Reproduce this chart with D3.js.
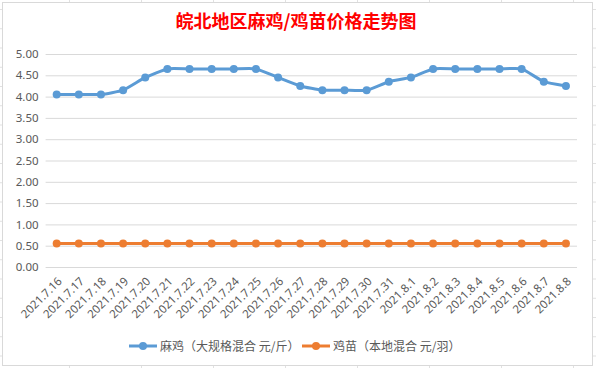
<!DOCTYPE html>
<html>
<head>
<meta charset="utf-8">
<script src="https://cdn.jsdelivr.net/npm/d3@7"></script>
<style>
body{margin:0;background:#fff;}
text{font-family:"Noto Sans CJK SC","Noto Sans",sans-serif;}
</style>
</head>
<body>
<div id="chart"></div>
<script>
/* 皖北地区麻鸡/鸡苗价格走势图 */

var dates = ["2021.7.16","2021.7.17","2021.7.18","2021.7.19","2021.7.20","2021.7.21","2021.7.22","2021.7.23",
  "2021.7.24","2021.7.25","2021.7.26","2021.7.27","2021.7.28","2021.7.29","2021.7.30","2021.7.31",
  "2021.8.1","2021.8.2","2021.8.3","2021.8.4","2021.8.5","2021.8.6","2021.8.7","2021.8.8"];
var maji = [4.05,4.05,4.05,4.15,4.45,4.65,4.65,4.65,4.65,4.65,4.45,4.25,4.15,4.15,4.15,4.35,4.45,4.65,4.65,4.65,4.65,4.65,4.35,4.25];
var jimiao = [0.55,0.55,0.55,0.55,0.55,0.55,0.55,0.55,0.55,0.55,0.55,0.55,0.55,0.55,0.55,0.55,0.55,0.55,0.55,0.55,0.55,0.55,0.55,0.55];
var yTicks = [0,0.5,1,1.5,2,2.5,3,3.5,4,4.5,5];
var seriesNames = ["麻鸡（大规格混合 元/斤）","鸡苗（本地混合 元/羽）"];
var colors = ["#5b9bd5","#ed7d31"];

var W = 596, H = 368;
var svg = d3.select("#chart").append("svg").attr("width",W).attr("height",H);

// spreadsheet cells behind the chart
var bg = svg.append("g").attr("stroke","#e1e1e1").attr("stroke-width",1);
d3.range(-3,9).forEach(function(i){
  var x = 69.5 + i*72;
  bg.append("line").attr("x1",x).attr("x2",x).attr("y1",0).attr("y2",H);
});
d3.range(0,20).forEach(function(i){
  var y = 9.5 + i*19.25;
  bg.append("line").attr("x1",0).attr("x2",W).attr("y1",y).attr("y2",y);
});

svg.append("rect").attr("x",2.5).attr("y",2.5).attr("width",590).attr("height",363)
  .attr("fill","#fff").attr("stroke","#d9d9d9");

svg.append("text").text("皖北地区麻鸡/鸡苗价格走势图")
  .attr("x",296).attr("y",28).attr("text-anchor","middle")
  .attr("font-size","18px").attr("font-weight","bold").attr("fill","#ff0000");

var margin = {top:54,left:45.6,right:19,bottom:101};
var w = W - margin.left - margin.right,
    h = H - margin.top - margin.bottom;

var g = svg.append("g").attr("transform",`translate(${margin.left},${margin.top})`);

var xScale = d3.scaleBand().domain(dates).range([0,w]);
var yScale = d3.scaleLinear().domain([0,5]).range([h,0]);

// gridlines + y labels
g.append("g").attr("class","grid")
  .call(d3.axisLeft(yScale).tickValues(yTicks).tickSize(-w).tickFormat(d3.format(".2f")).tickPadding(7))
  .call(function(a){
    a.select(".domain").remove();
    a.selectAll("line").attr("stroke","#d9d9d9");
    a.selectAll("text").attr("fill","#595959").attr("font-size","11.5px")
      .style("font-family","'Noto Sans',sans-serif");
  });

// x axis labels
g.append("g").attr("transform","translate(0,"+h+")")
  .call(d3.axisBottom(xScale).tickSize(0).tickPadding(0))
  .call(function(a){
    a.select(".domain").remove();
    a.selectAll("text")
      .attr("fill","#595959").attr("font-size","11.5px")
      .style("font-family","'Noto Sans',sans-serif")
      .style("text-anchor","end")
      .attr("dy","0")
      .attr("transform","translate(6,15)rotate(-45)");
  });

var line = d3.line()
  .x(function(d,i){return xScale(dates[i]) + xScale.bandwidth()/2;})
  .y(function(d){return yScale(d);})
  .curve(d3.curveCardinal.tension(0.5));

[maji,jimiao].forEach(function(data,k){
  g.append("path").datum(data)
    .attr("fill","none").attr("stroke",colors[k]).attr("stroke-width",3)
    .attr("stroke-linejoin","round").attr("d",line);
  g.selectAll(".pt"+k).data(data).enter().append("circle")
    .attr("cx",function(d,i){return xScale(dates[i]) + xScale.bandwidth()/2;})
    .attr("cy",function(d){return yScale(d);})
    .attr("r",4).attr("fill",colors[k]);
});

// legend
var legX = [129,302];
seriesNames.forEach(function(name,k){
  var lg = svg.append("g").attr("transform",`translate(${legX[k]},346)`);
  lg.append("line").attr("x1",0).attr("x2",28).attr("stroke",colors[k]).attr("stroke-width",3);
  lg.append("circle").attr("cx",14).attr("r",4).attr("fill",colors[k]);
  lg.append("text").text(name).attr("x",31).attr("y",4.5)
    .attr("font-size","12px").attr("fill","#595959");
});
</script>
</body>
</html>
